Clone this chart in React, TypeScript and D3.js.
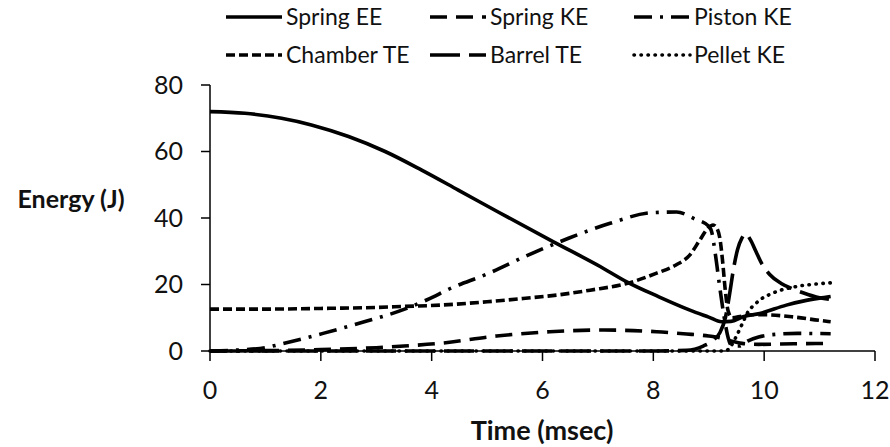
import React from "react";
import * as d3 from "d3";

// Energy partition of a spring-piston air gun over one shot cycle
const springEETime = [0, 0.63, 1.29, 1.83, 2.5, 3.16, 3.82, 4.48, 5.2, 6.19, 7.04, 7.52, 8.1, 8.66, 9.0, 9.23, 9.4, 9.62, 9.92, 10.4, 10.7, 11.0, 11.2];
const springEE = [72, 71.5, 70, 68, 64.5, 60, 54.4, 48.4, 41.8, 32.9, 25.4, 20.8, 16.3, 12.3, 10.2, 8.8, 8.9, 10.3, 11.3, 13.8, 15, 15.9, 16.4];

const springKETime = [0, 1, 2, 3, 3.5, 4.15, 5.17, 6.13, 7.09, 8.06, 8.6, 8.84, 9.0, 9.2, 9.4, 9.6, 9.9, 10.3, 10.7, 11.2];
const springKE = [0, 0.1, 0.4, 1.0, 1.5, 2.3, 4.5, 5.8, 6.3, 5.8, 5.1, 4.8, 4.5, 4.0, 3.0, 2.3, 2.0, 2.1, 2.2, 2.3];

const pistonKETime = [0, 0.5, 1.0, 1.26, 2.04, 2.83, 3.5, 4.03, 4.27, 5.02, 5.75, 6.47, 7.22, 7.97, 8.42, 8.75, 9.0, 9.05, 9.12, 9.2, 9.28, 9.35, 9.42, 9.55, 9.7, 9.9, 10.2, 10.6, 11.2];
const pistonKE = [0, 0.3, 1.0, 2.0, 5.3, 9.0, 12.5, 16.3, 18.3, 23.3, 28.9, 33.9, 38.4, 41.6, 41.8, 39.7, 37.5, 36, 29, 19, 10, 4, 1.5, 1.5, 3, 4.2, 5, 5.3, 5.2];

const chamberTETime = [0, 1, 2, 3, 3.5, 4.15, 5.0, 5.65, 6.3, 6.86, 7.52, 8.06, 8.4, 8.66, 8.84, 8.96, 9.08, 9.15, 9.2, 9.25, 9.3, 9.35, 9.42, 9.6, 9.8, 10.0, 10.5, 11.0, 11.2];
const chamberTE = [12.6, 12.6, 12.8, 13.1, 13.4, 13.8, 14.8, 15.8, 16.9, 18.3, 20.3, 23.4, 25.8, 28.9, 33.4, 36.4, 37.9, 36.8, 34, 27, 18, 12, 10, 10.5, 10.9, 10.9, 10.3, 9.2, 8.8];

const barrelTETime = [0, 8.0, 8.6, 8.9, 9.1, 9.2, 9.3, 9.38, 9.45, 9.52, 9.6, 9.66, 9.75, 9.85, 9.95, 10.1, 10.3, 10.5, 10.7, 11.0, 11.2];
const barrelTE = [0, 0, 0.2, 1.5, 3.5, 5.5, 10, 17.5, 25, 30.5, 34, 35.3, 33.5, 30, 26.5, 23, 20.4, 18.8, 17.5, 16, 15.5];

const pelletKETime = [0, 9.3, 9.4, 9.5, 9.6, 9.71, 9.83, 9.95, 10.1, 10.3, 10.5, 10.65, 10.85, 11.04, 11.2];
const pelletKE = [0, 0, 1.5, 4.5, 8, 11.8, 14, 15.7, 17, 18.3, 19.1, 19.6, 20, 20.3, 20.5];

const seriesNames = ["Spring EE", "Spring KE", "Piston KE", "Chamber TE", "Barrel TE", "Pellet KE"];
const xTicks = [0, 2, 4, 6, 8, 10, 12];
const yTicks = [0, 20, 40, 60, 80];

const FONT = "Lato, 'Open Sans', sans-serif";

const series = [
  { name: seriesNames[0], t: springEETime, v: springEE, dash: "none", cap: "butt" },
  { name: seriesNames[1], t: springKETime, v: springKE, dash: "17,9", cap: "butt" },
  { name: seriesNames[2], t: pistonKETime, v: pistonKE, dash: "18,8,3,8", cap: "butt" },
  { name: seriesNames[3], t: chamberTETime, v: chamberTE, dash: "9,4", cap: "butt" },
  { name: seriesNames[4], t: barrelTETime, v: barrelTE, dash: "30,9", cap: "butt" },
  { name: seriesNames[5], t: pelletKETime, v: pelletKE, dash: "0.4,6.6", cap: "round" },
];

export default function App() {
  const width = 890;
  const height = 447;
  const x = d3.scaleLinear().domain([0, 12]).range([210, 875]);
  const y = d3.scaleLinear().domain([0, 80]).range([351, 85]);

  const line = d3
    .line<[number, number]>()
    .x((d) => x(d[0]))
    .y((d) => y(d[1]))
    .curve(d3.curveMonotoneX);

  const [x0, x1] = x.range();
  const [yb, yt] = y.range();

  return (
    <svg
      width={width}
      height={height}
      style={{ position: "absolute", left: 0, top: 0, background: "#fff" }}
      fontFamily={FONT}
    >
      {/* legend */}
      {series.map((s, i) => {
        const col = i % 3;
        const row = Math.floor(i / 3);
        const lx = 226 + col * 204;
        const ly = 17 + row * 38;
        return (
          <g key={s.name}>
            <line
              x1={lx}
              x2={lx + 56}
              y1={ly}
              y2={ly}
              stroke="#000"
              strokeWidth={3.6}
              strokeDasharray={s.dash}
              strokeLinecap={s.cap as any}
            />
            <text x={lx + 60} y={ly} dy="0.35em" fontSize={23} fill="#111">
              {s.name}
            </text>
          </g>
        );
      })}

      {/* y axis */}
      <line x1={x0} x2={x0} y1={yb} y2={yt} stroke="#000" strokeWidth={1.5} />
      {yTicks.map((t) => (
        <g key={"y" + t}>
          <line x1={x0 - 9} x2={x0} y1={y(t)} y2={y(t)} stroke="#000" strokeWidth={1.5} />
          <text x={x0 - 27} y={y(t)} dy="0.35em" textAnchor="end" fontSize={25} fill="#111">
            {t}
          </text>
        </g>
      ))}

      {/* x axis */}
      <line x1={x0} x2={x1} y1={yb} y2={yb} stroke="#000" strokeWidth={1.5} />
      {xTicks.map((t) => (
        <g key={"x" + t}>
          <line x1={x(t)} x2={x(t)} y1={yb} y2={yb + 10} stroke="#000" strokeWidth={1.5} />
          <text x={x(t)} y={yb + 39} dy="0.35em" textAnchor="middle" fontSize={25} fill="#111">
            {t}
          </text>
        </g>
      ))}

      {/* series */}
      {series.map((s) => (
        <path
          key={"p" + s.name}
          d={line(s.t.map((t, i) => [t, s.v[i]] as [number, number])) || ""}
          fill="none"
          stroke="#000"
          strokeWidth={3.6}
          strokeDasharray={s.dash}
          strokeLinecap={s.cap as any}
        />
      ))}

      {/* axis titles */}
      <text x={71} y={208} textAnchor="middle" fontSize={25} fontWeight="bold" fill="#111">
        Energy (J)
      </text>
      <text x={542} y={440} textAnchor="middle" fontSize={27} fontWeight="bold" fill="#111">
        Time (msec)
      </text>
    </svg>
  );
}
